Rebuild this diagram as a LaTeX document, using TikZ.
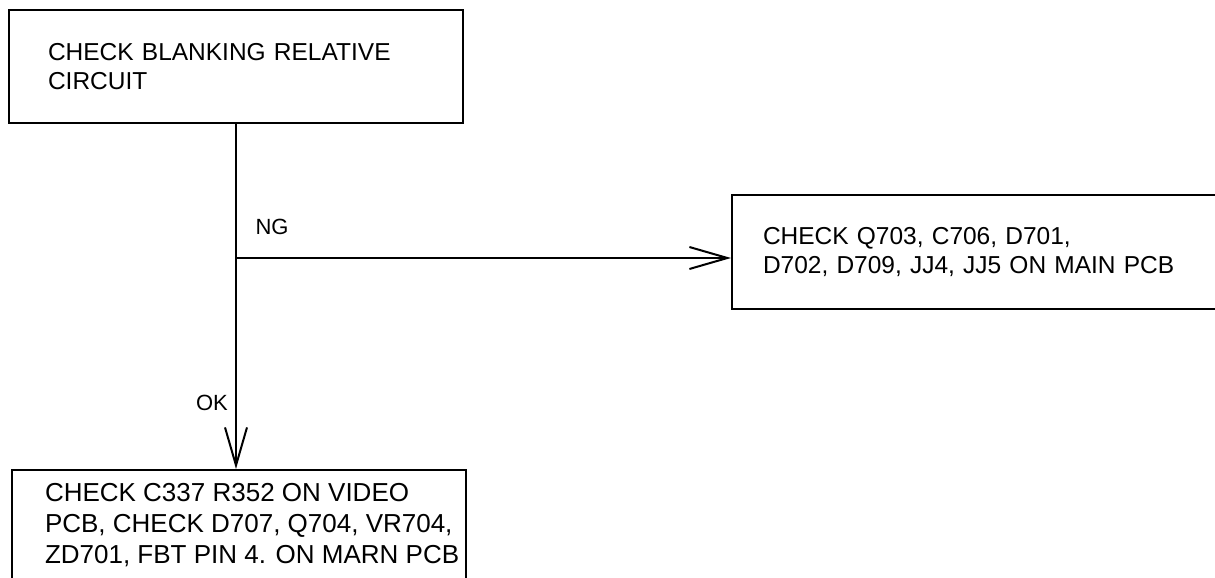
\documentclass[tikz,border=0pt]{standalone}
\usepackage{fontspec}
\setmainfont{Liberation Sans}
\usetikzlibrary{arrows.meta}
\tikzset{
  chkbox/.style={draw, line width=2pt, align=left, inner ysep=0pt, font=\fontsize{24.5}{29}\selectfont},
  flow/.style={line width=2pt, -{Straight Barb[length=38pt,width=22pt,line width=2pt]}},
  lbl/.style={font=\fontsize{22}{26}\selectfont}
}
\begin{document}
\begin{tikzpicture}[x=1pt,y=-1pt]
\useasboundingbox (0,0) rectangle (1215,578);
\clip (0,0) rectangle (1215,578);
% check boxes
\node[chkbox, text width=376pt, inner xsep=39pt, minimum height=113pt] (blank) at (236,66.5) {CHECK BLANKING RELATIVE\\CIRCUIT};
\node[chkbox, text width=436pt, inner xsep=31pt, minimum height=114pt] (mainpcb) at (981,252) {CHECK Q703, C706, D701,\\D702, D709, JJ4, JJ5 ON MAIN PCB};
\node[draw, line width=2pt, inner sep=0pt, minimum height=113pt, font=\fontsize{26}{31}\selectfont] (video) at (239,526.5)
  {\hbox to 454pt{\hspace{33pt}\begin{tabular}{@{}l@{}}CHECK C337 R352 ON VIDEO\\PCB, CHECK D707, Q704, VR704,\\ZD701, FBT PIN 4. ON MARN PCB\end{tabular}\hfil}};
% connectors
\coordinate (fork) at (236,258);
\draw[flow] (blank.south -| fork) -- (video.north -| fork);
\draw[flow] (fork) -- (fork -| mainpcb.west);
\node[lbl] (nglbl) at (272,227) {NG};
\node[lbl] (oklbl) at (212,403) {OK};
\end{tikzpicture}
\end{document}
